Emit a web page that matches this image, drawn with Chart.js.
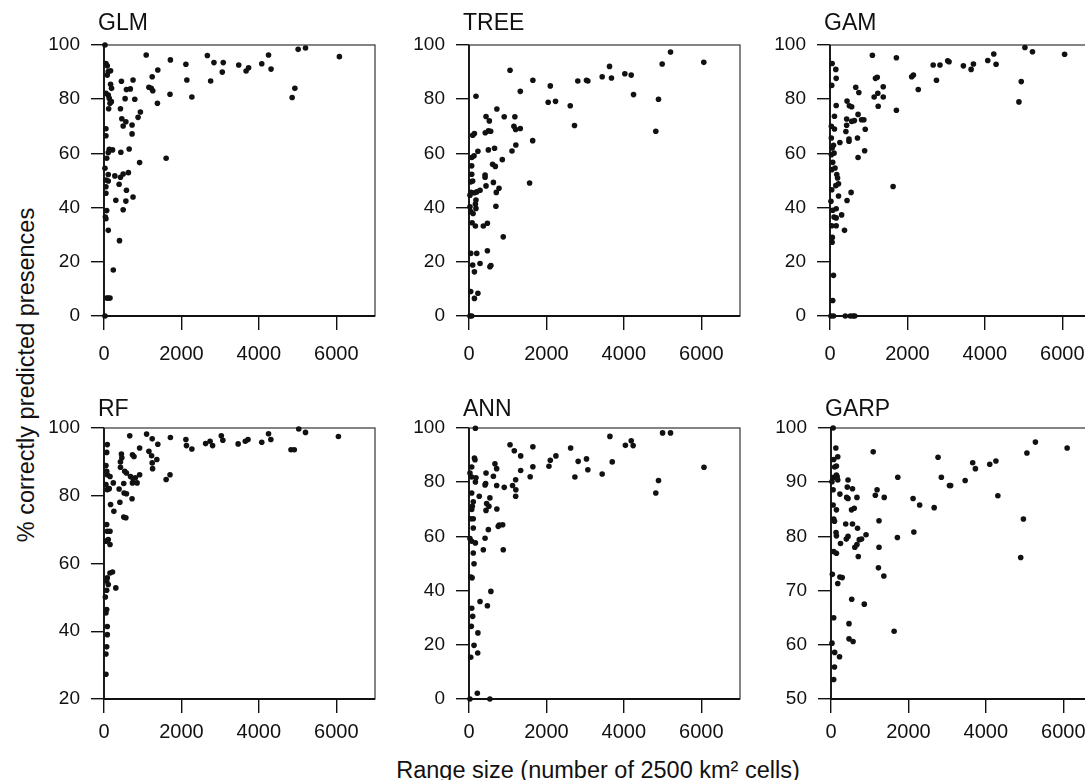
<!DOCTYPE html>
<html>
<head>
<meta charset="utf-8">
<script src="https://cdn.jsdelivr.net/npm/chart.js@4.4.0/dist/chart.umd.min.js"></script>
<style>
  body { margin: 0; background: #fff; width: 1085px; height: 780px; overflow: hidden; position: relative;
         font-family: 'Liberation Sans', Arial, sans-serif; color: #111; }
  canvas { position: absolute; }
  #ytitle { position: absolute; left: 26px; top: 375px; transform: translate(-50%, -50%) rotate(-90deg);
            white-space: nowrap; font-size: 23.5px; }
  #xtitle { position: absolute; left: 598px; top: 770px; transform: translate(-50%, -50%);
            white-space: nowrap; font-size: 23.5px; }
</style>
</head>
<body>
<div id="ytitle">% correctly predicted presences</div>
<div id="xtitle">Range size (number of 2500 km² cells)</div>
<script>
// tick labels
const xTicks = [0, 2000, 4000, 6000];
const pctTicks = [0, 20, 40, 60, 80, 100];
const rfTicks = [20, 40, 60, 80, 100];
const garpTicks = [50, 60, 70, 80, 90, 100];

// [range size, % correctly predicted]
const glm = [[1090,96.3],[1715,94.5],[2115,92.9],[2670,96.1],[2840,93.5],[3080,93.5],[3055,90.0],[3480,92.6],[3670,90.4],[3735,91.6],[4075,93.1],[4250,96.3],[4315,91.1],[5015,98.4],[5205,98.9],[6080,95.7],[4860,80.6],[4930,84.0],
  [1390,90.8],[1245,88.3],[1160,84.4],[1220,84.0],[1260,83.1],[1380,78.5],[1705,81.8],[2140,87.1],[2270,80.8],[2755,86.7],[1605,58.2],
  [920,56.6],[940,75.3],[880,73.3],[795,80.0],[750,87.1],[680,83.8],[580,83.6],[450,86.6],[545,80.2],[425,76.5],[460,72.8],[495,70.1],[565,71.7],[725,70.5],[725,67.2],[650,61.6],[435,60.4],
  [280,51.7],[425,51.2],[495,52.4],[630,52.9],[390,48.6],[580,46.4],[305,42.7],[565,42.4],[750,43.9],[495,39.2],[400,27.8],[240,17.0],
  [25,100],[50,93.2],[85,92.3],[110,90.2],[170,90.5],[85,88.9],[170,85.5],[195,84.0],[50,82.2],[110,81.5],[135,80.3],[190,79.1],[155,78.5],[120,76.5],
  [50,69.1],[50,66.5],[135,61.5],[220,61.3],[110,60.3],[70,58.2],[25,54.5],[110,52.2],[50,50.2],[110,49.8],[50,47.7],[50,45.3],[70,38.9],[50,35.9],[35,36.5],[110,31.6],[70,6.6],[110,6.6],[155,6.6],[25,0]];

const tree = [[1060,90.7],[1650,87.0],[2100,84.9],[2045,78.9],[2235,79.2],[2615,77.6],[2725,70.3],[2810,86.7],[3035,87.0],[3070,86.7],[3440,88.3],[3630,92.1],[3680,87.8],[4025,89.4],[4190,88.9],[4250,81.7],[4895,80.0],[4825,68.2],[4990,93.0],[5205,97.4],[6065,93.6],
  [1325,82.9],[1645,64.7],[1565,49.1],[1185,73.5],[1160,70.0],[1205,68.8],[1325,69.2],[1210,63.1],[1110,60.9],[910,73.5],[720,76.4],[525,72.0],[440,73.6],[420,67.6],[500,68.3],[560,68.2],[500,61.3],[660,61.9],[860,57.7],[610,56.0],[680,55.2],[415,52.0],[415,51.2],[440,48.0],[630,49.3],[775,47.1],[705,45.6],[695,40.5],[885,29.2],[475,34.2],[370,33.2],[475,24.1],[540,18.2],[565,18.6],[285,19.4],[200,23.1],[230,8.4],[140,6.5],
  [180,81.1],[230,60.8],[130,59.1],[140,67.3],[95,66.7],[200,45.8],[140,45.5],[50,45.6],[285,46.4],[70,58.5],[70,55.4],[70,52.3],[95,49.8],[45,49.5],[180,42.8],[165,41.3],[180,39.7],[45,38.5],[105,37.8],[80,34.4],[165,33.2],[45,23.1],[95,18.8],[140,16.3],[45,9.0],[25,0],[70,0],[25,44.6],[25,40.3]];

const gam = [[1095,96.2],[1715,95.3],[2110,88.3],[2155,88.9],[2280,83.6],[2665,92.6],[2840,92.6],[2750,87.0],[3040,94.2],[3075,93.8],[3445,92.3],[3645,91.0],[3705,93.0],[4075,94.3],[4230,96.7],[4290,92.9],[4880,79.0],[4940,86.5],[5035,99.1],[5230,97.5],[6060,96.6],
  [1630,47.8],[1715,75.9],[1140,80.8],[1175,87.7],[1220,88.1],[1235,82.2],[1245,77.4],[1375,84.6],[1375,80.8],[910,68.9],[895,61.0],[725,58.5],[725,74.4],[665,84.4],[745,82.5],[440,79.3],[500,77.6],[560,77.2],[430,72.7],[430,70.4],[410,68.1],[490,64.5],[490,65.3],[710,65.7],[815,72.4],[875,72.4],[560,71.8],[630,72.1],[255,64.0],[545,45.6],[440,42.6],[300,37.3],[375,31.6],[220,44.3],[175,52.2],[195,50.9],[220,48.8],[150,48.1],
  [150,91.0],[160,87.7],[160,77.7],[115,73.7],[115,69.0],[55,93.2],[45,85.1],[90,63.0],[105,60.1],[130,54.6],[70,56.7],[35,59.5],[35,65.7],[35,70.0],[55,62.0],[45,54.0],[45,46.6],[25,42.3],[70,39.0],[160,39.6],[105,36.5],[160,36.2],[45,33.3],[160,33.3],[60,29.0],[55,27.2],[90,15.0],[70,5.7],[25,0],[90,0],[395,0],[525,0],[595,0],[640,0]];

const rf = [[665,97.7],[1100,98.2],[1245,96.8],[1715,97.2],[1390,95.2],[920,94.1],[735,92.1],[775,91.6],[1160,93.1],[1230,91.8],[1245,89.7],[1255,88.0],[1365,90.7],[450,92.3],[460,91.2],[425,90.0],[425,88.4],[535,87.2],[580,86.7],[685,85.7],[750,85.1],[810,85.3],[735,83.8],[855,83.8],[920,86.2],[510,83.6],[520,80.8],[580,80.6],[725,79.1],[390,82.0],[410,78.1],[170,77.4],[255,75.4],[510,73.7],[565,73.5],[240,83.8],[135,82.1],[85,81.8],[50,83.3],[70,87.2],[85,86.2],[50,88.9],[155,85.7],[85,95.1],[70,92.8],
  [1605,84.8],[1705,86.2],[2115,96.6],[2130,94.8],[2270,93.8],[2625,95.4],[2740,96.1],[2805,94.8],[3030,97.7],[3070,96.4],[3465,95.3],[3650,96.1],[3720,96.6],[4075,95.8],[4250,98.3],[4310,96.6],[4830,93.6],[4915,93.6],[5030,99.7],[5205,98.7],[6055,97.5],
  [70,71.5],[85,69.5],[155,69.5],[110,67.1],[50,66.6],[155,65.6],[220,57.5],[155,57.2],[85,55.8],[70,54.8],[110,53.8],[305,52.8],[35,50.1],[70,46.4],[50,45.4],[85,41.4],[85,39.0],[70,35.4],[50,33.3],[50,27.3],[70,52.1]];

const ann = [[165,99.9],[1060,93.8],[1170,91.6],[1335,89.7],[1650,93.1],[2245,89.7],[2100,88.1],[2065,85.9],[1650,85.7],[1580,82.0],[1335,84.3],[1205,80.9],[1210,77.2],[1205,74.8],[1125,78.8],[910,78.1],[715,78.8],[715,85.0],[670,86.8],[630,82.2],[440,83.4],[430,79.5],[415,79.0],[540,74.2],[265,74.8],[455,72.1],[515,71.1],[440,69.6],[720,70.1],[780,64.2],[870,64.3],[755,63.7],[500,62.5],[415,59.3],[370,55.1],[885,55.1],[565,39.7],[285,36.0],[475,34.4],
  [2625,92.6],[2735,81.9],[2820,87.7],[3035,88.6],[3070,84.6],[3440,83.0],[3640,96.9],[3700,87.5],[4040,93.6],[4190,95.3],[4240,93.5],[5000,98.2],[5205,98.2],[4895,80.6],[4825,76.0],[6070,85.5],
  [70,85.6],[25,83.4],[70,81.9],[180,81.6],[165,80.1],[140,88.9],[155,88.3],[70,76.0],[110,72.8],[85,71.1],[70,69.9],[45,66.5],[110,66.5],[110,63.1],[25,59.2],[70,58.2],[165,57.6],[110,53.9],[130,49.9],[50,45.0],[80,44.7],[70,33.5],[95,30.5],[60,26.8],[230,24.4],[130,19.8],[225,17.0],[45,15.4],[215,2.1],[25,0],[540,0]];

const garp = [[55,100],[125,96.3],[175,94.7],[70,94.2],[95,92.8],[140,93.0],[140,91.3],[70,90.9],[160,91.0],[25,90.1],[175,90.4],[55,88.6],[230,87.8],[55,85.8],[140,84.9],[70,83.2],[90,82.8],[380,82.3],[555,82.3],[685,81.5],[130,80.7],[140,80.1],[245,78.7],[395,79.5],[440,80.0],[615,78.0],[670,78.5],[730,79.4],[790,79.5],[905,80.3],[705,76.3],[70,77.2],[140,76.9],[440,90.4],[420,89.1],[555,88.8],[405,87.2],[440,87.0],[670,87.2],[530,84.9],[600,85.2],
  [1090,95.6],[1145,87.6],[1190,88.6],[1375,87.2],[1240,82.9],[1240,78.0],[1725,90.9],[1715,79.8],[1225,74.2],[1365,72.7],[2120,87.0],[2290,85.8],[2140,80.8],[2665,85.3],[2765,94.6],[2850,90.9],[3060,89.4],[3090,89.4],[3465,90.3],[3660,93.6],[3730,92.5],[4100,93.3],[4260,93.9],[4310,87.5],[4970,83.2],[4900,76.1],[5060,95.4],[5280,97.4],[6100,96.3],
  [535,68.4],[860,67.5],[70,65.0],[465,63.9],[1630,62.5],[35,73.0],[230,72.5],[290,72.4],[175,71.3],[465,61.1],[570,60.6],[25,60.3],[95,58.6],[220,57.8],[90,55.9],[70,53.6]];

const FONT = "'Liberation Sans', Arial, sans-serif";
const INK = '#111';
const PAD_L = 70, PAD_T = 45, PAD_R = 8, PAD_B = 60, SIZE = 271;

// box around the plot area, heavier on the left and bottom
const framePlugin = {
    id: 'frame',
    beforeDatasetsDraw(chart) {
        const { ctx, chartArea: a } = chart;
        ctx.save();
        ctx.strokeStyle = '#333';
        ctx.lineWidth = 1.2;
        ctx.strokeRect(a.left, a.top, a.width, a.height);
        ctx.strokeStyle = INK;
        ctx.lineWidth = 1.8;
        ctx.beginPath();
        ctx.moveTo(a.left, a.top);
        ctx.lineTo(a.left, a.bottom);
        ctx.lineTo(a.right, a.bottom);
        ctx.stroke();
        ctx.restore();
    }
};

// panel name above the top-left corner
const namePlugin = {
    id: 'panelName',
    afterDraw(chart, args, opts) {
        const { ctx, chartArea: a } = chart;
        ctx.save();
        ctx.fillStyle = INK;
        ctx.font = '23px ' + FONT;
        ctx.textBaseline = 'alphabetic';
        ctx.fillText(opts.text, a.left - 6, a.top - opts.gap);
        ctx.restore();
    }
};

function makePanel(name, pts, left, top, yMin, yTicks, xPad, gap) {
    const cv = document.createElement('canvas');
    cv.width = PAD_L + SIZE + PAD_R;
    cv.height = PAD_T + SIZE + PAD_B;
    cv.style.left = (left - PAD_L) + 'px';
    cv.style.top = (top - PAD_T) + 'px';
    document.body.appendChild(cv);

    new Chart(cv, {
        type: 'scatter',
        data: {
            datasets: [{
                data: pts.map(p => ({ x: p[0], y: p[1] })),
                backgroundColor: INK,
                borderWidth: 0,
                pointRadius: 2.8,
                pointHoverRadius: 2.8,
                clip: false
            }]
        },
        options: {
            responsive: false,
            animation: false,
            layout: { padding: { left: 0, top: PAD_T, right: PAD_R, bottom: 0 } },
            plugins: {
                legend: { display: false },
                tooltip: { enabled: false },
                panelName: { text: name, gap: gap }
            },
            scales: {
                x: {
                    type: 'linear', min: 0, max: 7000,
                    afterBuildTicks: s => { s.ticks = xTicks.map(v => ({ value: v })); },
                    afterFit: s => { s.height = PAD_B; },
                    border: { display: false },
                    grid: { drawOnChartArea: false, tickLength: 14, color: INK, lineWidth: 1.4 },
                    ticks: { color: INK, font: { family: FONT, size: 20 }, padding: xPad,
                             maxRotation: 0, autoSkip: false, callback: v => String(v) }
                },
                y: {
                    type: 'linear', min: yMin, max: 100,
                    afterBuildTicks: s => { s.ticks = yTicks.map(v => ({ value: v })); },
                    afterFit: s => { s.width = PAD_L; },
                    border: { display: false },
                    grid: { drawOnChartArea: false, tickLength: 13, color: INK, lineWidth: 1.4 },
                    ticks: { color: INK, font: { family: FONT, size: 19 }, padding: 11,
                             autoSkip: false, callback: v => String(v) }
                }
            }
        },
        plugins: [framePlugin, namePlugin]
    });
}

makePanel('GLM', glm, 104, 45, 0, pctTicks, 12, 15);
makePanel('TREE', tree, 469, 45, 0, pctTicks, 12, 15);
makePanel('GAM', gam, 830, 45, 0, pctTicks, 12, 15);
makePanel('RF', rf, 104, 428, 20, rfTicks, 7, 12);
makePanel('ANN', ann, 469, 428, 0, pctTicks, 7, 12);
makePanel('GARP', garp, 831, 428, 50, garpTicks, 7, 12);
</script>
</body>
</html>
